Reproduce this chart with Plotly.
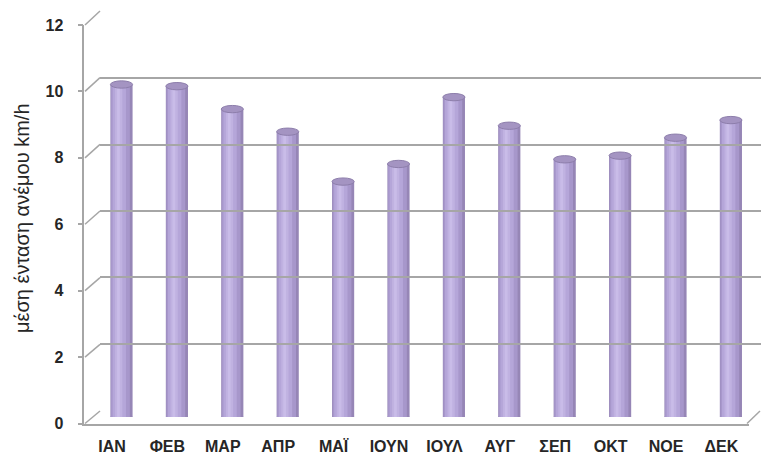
import plotly.graph_objects as go

months = ["ΙΑΝ", "ΦΕΒ", "ΜΑΡ", "ΑΠΡ", "ΜΑΪ", "ΙΟΥΝ", "ΙΟΥΛ", "ΑΥΓ", "ΣΕΠ", "ΟΚΤ", "ΝΟΕ", "ΔΕΚ"]
wind = [10.0, 9.95, 9.26, 8.58, 7.08, 7.61, 9.62, 8.76, 7.75, 7.86, 8.40, 8.93]
y_ticks = [0, 2, 4, 6, 8, 10, 12]
y_title = "μέση ένταση ανέμου km/h"

W, H = 761, 457
FONT = "Liberation Sans, Arial, sans-serif"
GRID = "#a6a6a6"

def px(x):
    return x / W

def py(y):
    return (H - y) / H

idx = list(range(len(months)))

# domains (pixel based) for front, middle (bars) and back planes
front_x = [px(84.3), px(749.1)]
front_y = [py(423.5), py(25)]
mid_x = [px(93.8), px(758.6)]
mid_y = [py(417), py(18)]
back_x = [px(100), 1.0]
back_y = [py(411), py(11)]

fig = go.Figure()

# cylinder body: overlaid bars of decreasing width -> shading
layers = [
    (0.40, 0.00, "#9686b6"),
    (0.34, -0.02, "#a797cb"),
    (0.24, -0.04, "#b5a6d9"),
    (0.13, -0.05, "#c0b2e1"),
    (0.05, -0.055, "#c9bce8"),
]
for w, shift, col in layers:
    fig.add_trace(go.Bar(
        x=idx, y=wind, width=w, offset=-w / 2 + shift,
        marker=dict(color=col, line=dict(width=0)),
        xaxis="x", yaxis="y", hoverinfo="skip", showlegend=False,
    ))

# helper traces so the front and back axes exist
fig.add_trace(go.Scatter(x=[0], y=[0], xaxis="x2", yaxis="y2", mode="markers",
                         marker=dict(opacity=0), hoverinfo="skip", showlegend=False))
fig.add_trace(go.Scatter(x=[0], y=[0], xaxis="x3", yaxis="y3", mode="markers",
                         marker=dict(opacity=0), hoverinfo="skip", showlegend=False))

shapes = []
# cylinder tops and bottoms
for i, v in zip(idx, wind):
    shapes.append(dict(type="circle", xref="x", yref="y",
                       x0=i - 0.2, x1=i + 0.2, y0=v - 0.11, y1=v + 0.11,
                       fillcolor="#a494c2", line=dict(color="#8d7eab", width=1),
                       layer="above"))
    shapes.append(dict(type="circle", xref="x", yref="y",
                       x0=i - 0.2, x1=i + 0.2, y0=-0.1, y1=0.1,
                       fillcolor="#a99ac9", line=dict(width=0), layer="below"))

# left side wall: connectors from front ticks to back gridlines
for t in y_ticks:
    yf = front_y[0] + (front_y[1] - front_y[0]) * t / 12
    yb = back_y[0] + (back_y[1] - back_y[0]) * t / 12
    shapes.append(dict(type="line", xref="paper", yref="paper",
                       x0=px(85), y0=yf, x1=back_x[0], y1=yb,
                       line=dict(color=GRID, width=1.5), layer="below"))
# right floor edge
shapes.append(dict(type="line", xref="paper", yref="paper",
                   x0=px(747), y0=front_y[0], x1=px(760), y1=back_y[0],
                   line=dict(color=GRID, width=1.5), layer="below"))

fig.update_layout(
    width=W, height=H,
    autosize=False,
    margin=dict(l=0, r=0, t=0, b=0, autoexpand=False),
    paper_bgcolor="white", plot_bgcolor="rgba(0,0,0,0)",
    barmode="overlay",
    showlegend=False,
    font=dict(family=FONT, color="#000000"),
    shapes=shapes,
    xaxis=dict(domain=mid_x, range=[-0.5, 11.5], anchor="y", visible=False,
               fixedrange=True, automargin=False),
    yaxis=dict(domain=mid_y, range=[0, 12], anchor="x", visible=False,
               fixedrange=True, automargin=False),
    xaxis2=dict(domain=front_x, range=[-0.5, 11.5], anchor="y2",
                tickvals=idx, ticktext=months,
                tickfont=dict(family=FONT, size=16, color="#262626", weight="bold"),
                ticks="outside", ticklen=8, tickcolor="rgba(0,0,0,0)",
                showline=True, linecolor=GRID, linewidth=1.5,
                showgrid=False, zeroline=False, automargin=False),
    yaxis2=dict(domain=front_y, range=[0, 12], anchor="x2",
                tickvals=y_ticks,
                tickfont=dict(family=FONT, size=16, color="#262626", weight="bold"),
                ticks="outside", ticklen=5, tickcolor=GRID, tickwidth=1.5,
                ticklabelstandoff=11,
                showline=True, linecolor=GRID, linewidth=1.5,
                showgrid=False, zeroline=False, automargin=False),
    xaxis3=dict(domain=back_x, range=[0, 1], anchor="y3", visible=False, automargin=False),
    yaxis3=dict(domain=back_y, range=[-0.02, 12.02], anchor="x3",
                tickvals=y_ticks, showticklabels=False, ticks="",
                showgrid=True, gridcolor=GRID, gridwidth=1.5,
                zeroline=False, showline=False, automargin=False),
    annotations=[dict(text=y_title, xref="paper", yref="paper",
                      x=px(22), y=py(218), xanchor="center", yanchor="middle",
                      showarrow=False, textangle=-90,
                      font=dict(family=FONT, size=20, color="#262626"))],
)

fig.write_html("out.html", config={"displayModeBar": False},
               post_script="document.body.style.margin='0';document.body.style.overflow='hidden';")
